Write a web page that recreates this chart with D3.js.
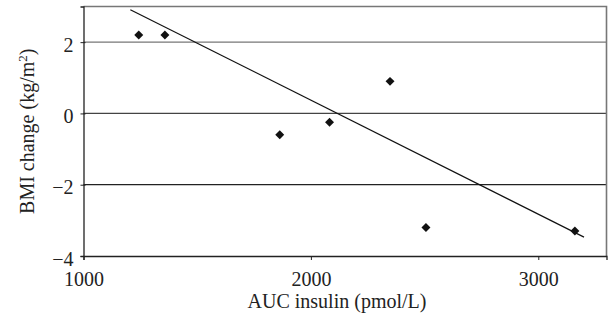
<!DOCTYPE html>
<html>
<head>
<meta charset="utf-8">
<script src="https://cdn.jsdelivr.net/npm/d3@7"></script>
<style>
  body { margin: 0; background: #fff; }
  svg { display: block; }
  .axis text { font-family: "Liberation Serif", "DejaVu Serif", serif; font-size: 20px; fill: #222; }
  .title { font-family: "Liberation Serif", "DejaVu Serif", serif; font-size: 20px; fill: #222; }
</style>
</head>
<body>
<script>
// scatter values
const aucInsulin = [1243, 1358, 1863, 2082, 2348, 2506, 3161];
const bmiChange = [2.2, 2.2, -0.6, -0.25, 0.9, -3.2, -3.3];

// trend line end points
const trendX = [1206, 3201];
const trendY = [2.91, -3.47];

const xTicks = [1000, 2000, 3000];
const yTicks = [-4, -2, 0, 2];

const WIDTH = 608;
const HEIGHT = 325;
const MARGIN = {top: 6.5, bottom: 69, left: 83.5, right: 1.5};

let svg = d3.select('body')
            .append('svg')
            .attr('width', WIDTH)
            .attr('height', HEIGHT);

const xScale = d3.scaleLinear()
                 .domain([1000, 3300])
                 .range([MARGIN.left, WIDTH - MARGIN.right]);

const yScale = d3.scaleLinear()
                 .domain([-4, 3])
                 .range([HEIGHT - MARGIN.bottom, MARGIN.top]);

// horizontal grid lines
svg.selectAll('.grid')
   .data(yTicks.filter(d => d > -4))
   .enter()
   .append('line')
   .attr('class', 'grid')
   .attr('x1', xScale(1000))
   .attr('x2', xScale(3300))
   .attr('y1', d => yScale(d))
   .attr('y2', d => yScale(d))
   .attr('stroke', (d, i) => ['#222', '#444', '#777'][i])
   .attr('stroke-width', 1.3);

// top and right border
svg.append('path')
   .attr('d', 'M' + xScale(1000) + ',' + yScale(3) + 'H' + xScale(3300) + 'V' + yScale(-4))
   .attr('fill', 'none')
   .attr('stroke', '#777')
   .attr('stroke-width', 1.6);

// axes
let xAxis = d3.axisBottom(xScale).tickValues(xTicks).tickSize(4).tickPadding(12).tickFormat(d3.format('d'));
let yAxis = d3.axisLeft(yScale).tickValues(yTicks).tickSize(3).tickPadding(7).tickFormat(d3.format('d'));

let gx = svg.append('g')
   .attr('class', 'axis')
   .attr('transform', 'translate(0,' + yScale(-4) + ')')
   .call(xAxis);

let gy = svg.append('g')
   .attr('class', 'axis')
   .attr('transform', 'translate(' + xScale(1000) + ',0)')
   .call(yAxis);

gx.select('.domain').attr('stroke', '#222').attr('stroke-width', 1.3);
gy.select('.domain').attr('stroke', '#222').attr('stroke-width', 1.3);
svg.selectAll('.axis .tick line').attr('stroke', '#222');
// y ticks cross the axis line
gy.selectAll('.tick line').attr('x1', 2);
gy.selectAll('.tick text').attr('dy', '0.45em');

// trend line
svg.append('line')
   .attr('x1', xScale(trendX[0]))
   .attr('y1', yScale(trendY[0]))
   .attr('x2', xScale(trendX[1]))
   .attr('y2', yScale(trendY[1]))
   .attr('stroke', '#111')
   .attr('stroke-width', 1.2);

// diamond markers
svg.selectAll('.dot')
   .data(aucInsulin)
   .enter()
   .append('path')
   .attr('class', 'dot')
   .attr('d', d3.symbol().type(d3.symbolSquare).size(40))
   .attr('transform', (d, i) => 'translate(' + xScale(d) + ',' + yScale(bmiChange[i]) + ') rotate(45)')
   .attr('fill', '#111');

// axis titles
svg.append('text')
   .attr('class', 'title')
   .attr('x', (xScale(1000) + xScale(3300)) / 2 - 8)
   .attr('y', 308)
   .attr('text-anchor', 'middle')
   .text('AUC insulin (pmol/L)');

let yt = svg.append('text')
   .attr('class', 'title')
   .attr('text-anchor', 'middle')
   .attr('transform', 'translate(34,' + (yScale(-4) + yScale(3)) / 2 + ') rotate(-90)');
yt.append('tspan').text('BMI change (kg/m');
yt.append('tspan').attr('dy', -7).style('font-size', '13px').text('2');
yt.append('tspan').attr('dy', 7).text(')');
</script>
</body>
</html>
